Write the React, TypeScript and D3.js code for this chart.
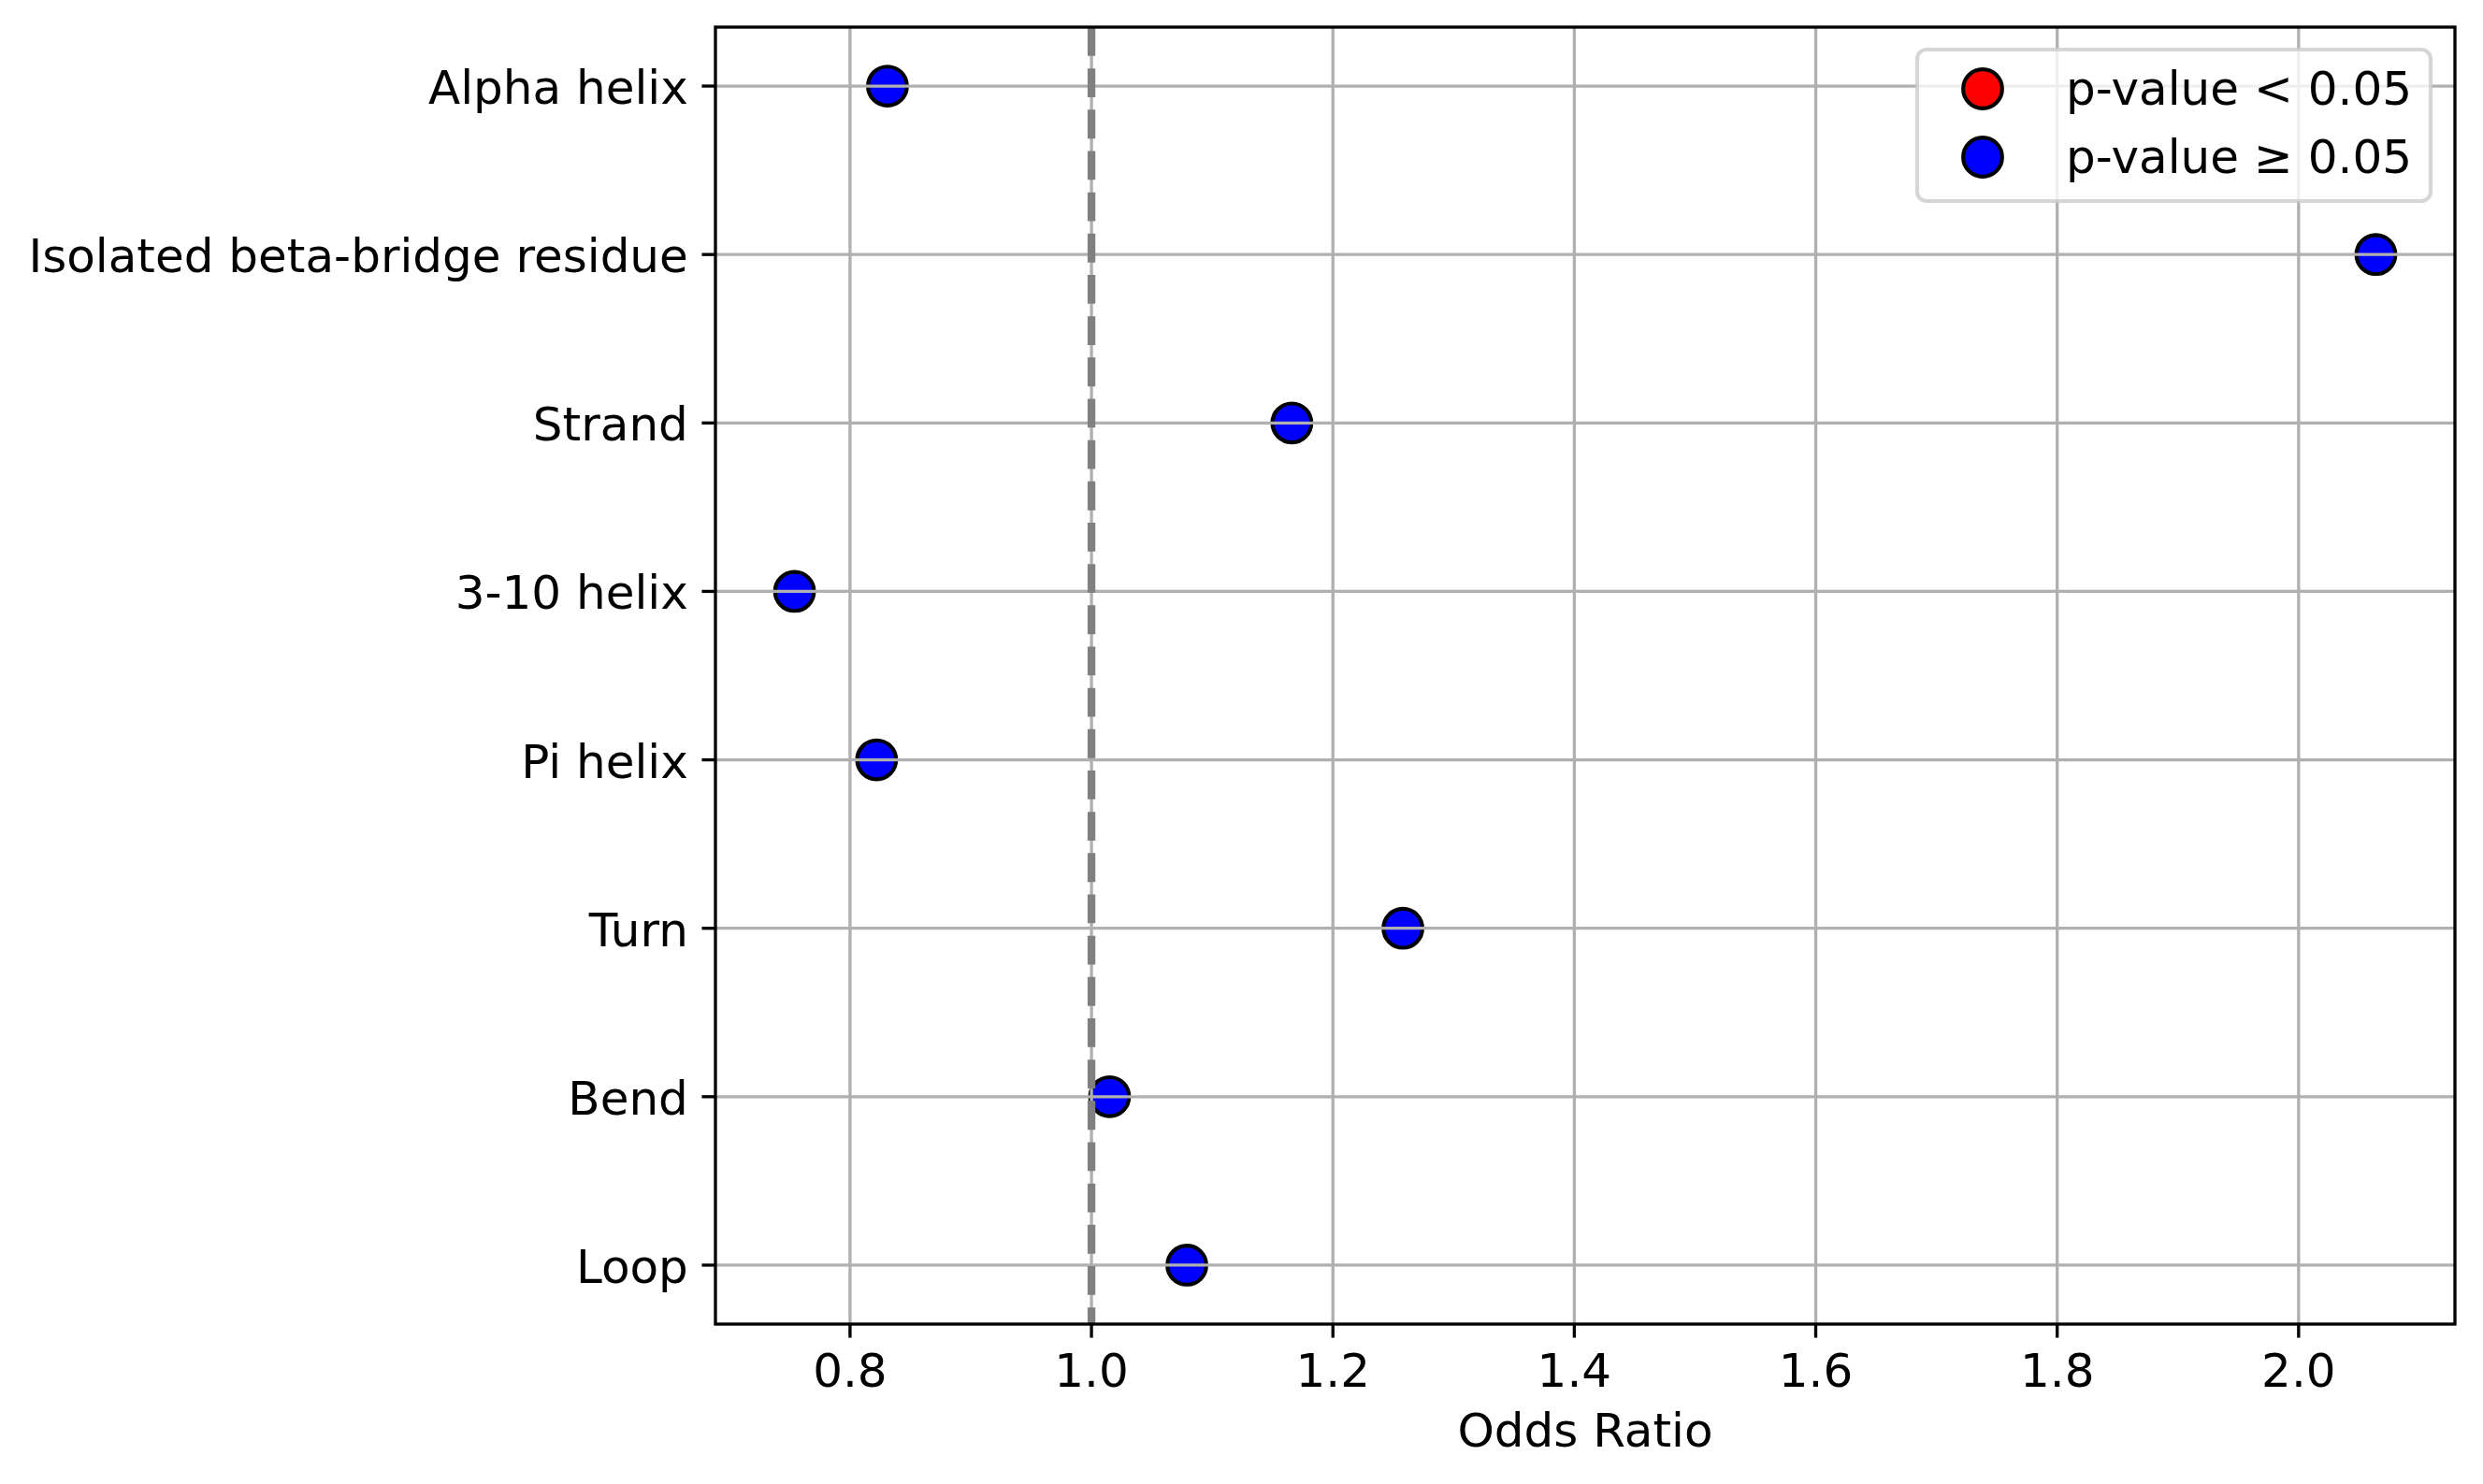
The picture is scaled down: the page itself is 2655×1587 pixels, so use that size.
import { useEffect } from 'react'
import * as d3 from 'd3'

// 데이터
const categories = [
  'Alpha helix',
  'Isolated beta-bridge residue',
  'Strand',
  '3-10 helix',
  'Pi helix',
  'Turn',
  'Bend',
  'Loop',
]
const oddsRatios = [0.831, 2.064, 1.166, 0.754, 0.822, 1.258, 1.015, 1.079]
const significant = [false, false, false, false, false, false, false, false]
const xTicks = [0.8, 1.0, 1.2, 1.4, 1.6, 1.8, 2.0]
const legendLabels = ['p-value < 0.05', 'p-value \u2265 0.05']
const legendColors = ['red', 'blue']

const W = 2655
const H = 1587
const margin = { top: 29, right: 30, bottom: 171, left: 765 }
const FONT = '"DejaVu Sans", sans-serif'
const FS = 50
const PT = 300 / 72

export default function App() {
  useEffect(() => {
    document.body.style.margin = '0'
  }, [])

  const left = margin.left
  const right = W - margin.right
  const top = margin.top
  const bottom = H - margin.bottom

  const [lo, hi] = d3.extent(oddsRatios) as [number, number]
  const pad = (hi - lo) * 0.05
  const x = d3.scaleLinear().domain([lo - pad, hi + pad]).range([left, right])
  const y = d3.scalePoint<string>().domain(categories).range([top, bottom]).padding(0.35)
  const fmt = d3.format('.1f')

  const gridW = 0.8 * PT
  const tickLen = 3.5 * PT
  const r = 5 * PT

  const legX = 2050
  const legY = 53
  const legW = 549
  const legH = 162

  return (
    <svg width={W} height={H} style={{ display: 'block', fontFamily: FONT }}>
      <rect x={0} y={0} width={W} height={H} fill="#fff" />

      {/* 점 */}
      <g>
        {categories.map((c, i) => (
          <circle
            key={c}
            cx={x(oddsRatios[i])}
            cy={y(c)}
            r={r}
            fill={significant[i] ? 'red' : 'blue'}
            stroke="#000"
            strokeWidth={1 * PT}
          />
        ))}
      </g>

      {/* 그리드 */}
      <g stroke="#b0b0b0" strokeWidth={gridW}>
        {xTicks.map((t) => (
          <line key={t} x1={x(t)} x2={x(t)} y1={top} y2={bottom} />
        ))}
        {categories.map((c) => (
          <line key={c} x1={left} x2={right} y1={y(c)} y2={y(c)} />
        ))}
      </g>

      {/* 기준선 */}
      <line
        x1={x(1)}
        x2={x(1)}
        y1={top}
        y2={bottom}
        stroke="gray"
        strokeWidth={2 * PT}
        strokeDasharray={`${3.7 * 2 * PT} ${1.6 * 2 * PT}`}
      />

      {/* 축 */}
      <rect
        x={left}
        y={top}
        width={right - left}
        height={bottom - top}
        fill="none"
        stroke="#000"
        strokeWidth={gridW}
      />

      {/* x 눈금 */}
      <g>
        {xTicks.map((t) => (
          <g key={t}>
            <line x1={x(t)} x2={x(t)} y1={bottom} y2={bottom + tickLen} stroke="#000" strokeWidth={gridW} />
            <text x={x(t)} y={bottom + 67} fontSize={FS} textAnchor="middle" fill="#000">
              {fmt(t)}
            </text>
          </g>
        ))}
      </g>

      {/* y 눈금 */}
      <g>
        {categories.map((c) => (
          <g key={c}>
            <line x1={left - tickLen} x2={left} y1={y(c)} y2={y(c)} stroke="#000" strokeWidth={gridW} />
            <text x={left - tickLen - 3.5 * PT} y={(y(c) ?? 0) + 19} fontSize={FS} textAnchor="end" fill="#000">
              {c}
            </text>
          </g>
        ))}
      </g>

      <text x={(left + right) / 2} y={1547} fontSize={FS} textAnchor="middle" fill="#000">
        Odds Ratio
      </text>

      {/* 범례 */}
      <g>
        <rect
          x={legX}
          y={legY}
          width={legW}
          height={legH}
          rx={10}
          ry={10}
          fill="#fff"
          fillOpacity={0.8}
          stroke="#cccccc"
          strokeOpacity={0.8}
          strokeWidth={1 * PT}
        />
        {legendLabels.map((l, i) => (
          <g key={l}>
            <circle
              cx={2120}
              cy={legY + 42 + i * 73}
              r={r}
              fill={legendColors[i]}
              stroke="#000"
              strokeWidth={1 * PT}
            />
            <text x={2209} y={legY + 59 + i * 73} fontSize={FS} fill="#000">
              {l}
            </text>
          </g>
        ))}
      </g>
    </svg>
  )
}
